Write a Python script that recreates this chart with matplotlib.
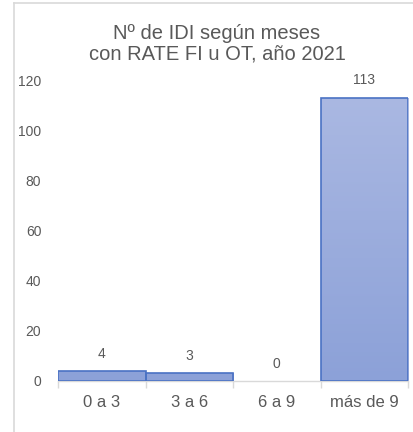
import matplotlib
matplotlib.use("Agg")
import matplotlib.pyplot as plt
import numpy as np
from matplotlib.lines import Line2D
from matplotlib.colors import LinearSegmentedColormap

categories = ["0 a 3", "3 a 6", "6 a 9", "más de 9"]
values = [4, 3, 0, 113]
yticks = [0, 20, 40, 60, 80, 100, 120]
title = "Nº de IDI según meses\ncon RATE FI u OT, año 2021"

plt.rcParams['font.family'] = ['Liberation Sans', 'DejaVu Sans']
text_color = "#595959"

fig = plt.figure(figsize=(4.13, 4.32), dpi=100)
ax = fig.add_axes([58/413, 1-381/432, 350/413, 301/432])

x = np.arange(len(categories))
bars = ax.bar(x, values, width=1.0, color="none", edgecolor="#4a72c4",
              linewidth=[1.2 if v > 0 else 0 for v in values], zorder=3)

cmap = LinearSegmentedColormap.from_list("g", ["#8ca1d8", "#aab8e2"])
grad = np.linspace(0, 1, 256).reshape(-1, 1)
ymax_val = max(values)
for b in bars:
    h = b.get_height()
    if h <= 0:
        continue
    im = ax.imshow(grad, cmap=cmap, origin="lower", aspect="auto",
                   extent=[b.get_x(), b.get_x() + b.get_width(), 0, ymax_val], zorder=2)
    im.set_clip_path(b)

for xi, v in zip(x, values):
    ax.annotate(str(v), (xi, v), xytext=(0, 12.5), textcoords="offset points",
                ha="center", va="center", fontsize=10, color=text_color)

ax.set_xlim(-0.5, len(categories) - 0.5)
ax.set_ylim(0, 120)
ax.set_yticks(yticks)
ax.set_yticklabels([str(t) for t in yticks], fontsize=10, color=text_color)
ax.set_xticks(x)
ax.set_xticklabels(categories, fontsize=12, color=text_color)
ax.set_xticks(np.arange(len(categories) + 1) - 0.5, minor=True)
ax.tick_params(axis="x", which="major", length=0, pad=10)
ax.tick_params(axis="x", which="minor", length=5, color="#d9d9d9", width=1)
ax.tick_params(axis="y", length=0, pad=12)
for s in ["top", "right", "left"]:
    ax.spines[s].set_visible(False)
ax.spines["bottom"].set_color("#d9d9d9")
ax.spines["bottom"].set_linewidth(1)
ax.set_zorder(1)

fig.text(217/413, 1-43.5/432, title, ha="center", va="center", fontsize=14.5,
         color=text_color, linespacing=1.1)

fig.add_artist(Line2D([14/413, 14/413], [0, 1-3/432], color="#d9d9d9", linewidth=1.2, transform=fig.transFigure))
fig.add_artist(Line2D([14/413, 1], [1-3/432, 1-3/432], color="#d9d9d9", linewidth=1.2, transform=fig.transFigure))

fig.savefig("out.png", dpi=100)
